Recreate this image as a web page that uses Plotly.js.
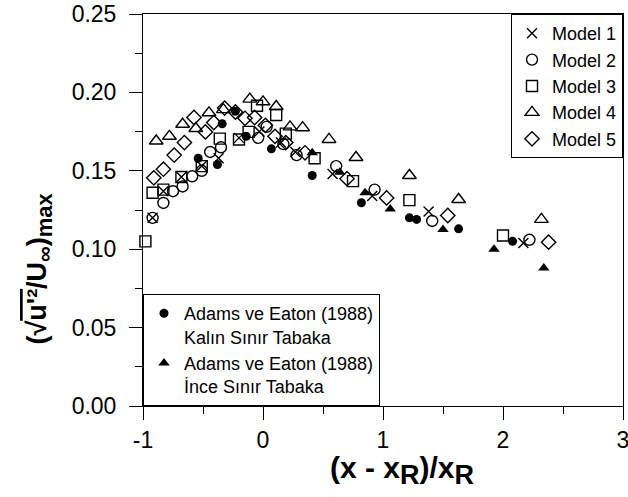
<!DOCTYPE html>
<html>
<head>
<meta charset="utf-8">
<script src="https://cdn.plot.ly/plotly-3.0.1.min.js"></script>
<style>html,body{margin:0;padding:0;background:#fff;}</style>
</head>
<body>
<div id="chart" style="width:628px;height:497px;"></div>
<script>
// Model 1 (x)
const m1X = [-0.92, -0.83, -0.68, -0.51, -0.37, -0.20, -0.03, 0.15, 0.27, 0.58, 0.91, 1.38, 2.17];
const m1Y = [0.120, 0.137, 0.146, 0.153, 0.158, 0.171, 0.175, 0.168, 0.162, 0.148, 0.134, 0.124, 0.104];
// Model 2 (o)
const m2X = [-0.92, -0.83, -0.75, -0.67, -0.59, -0.51, -0.44, -0.35, -0.04, 0.03, 0.17, 0.28, 0.61, 0.93, 1.41, 2.22];
const m2Y = [0.120, 0.1295, 0.137, 0.140, 0.1465, 0.150, 0.162, 0.165, 0.171, 0.178, 0.167, 0.160, 0.153, 0.138, 0.118, 0.106];
// Model 3 (square)
const m3X = [-0.98, -0.92, -0.83, -0.68, -0.51, -0.36, -0.20, -0.12, -0.05, 0.11, 0.19, 0.43, 0.75, 1.22, 2.00];
const m3Y = [0.105, 0.136, 0.138, 0.146, 0.153, 0.1705, 0.170, 0.1748, 0.1915, 0.1856, 0.1737, 0.158, 0.1434, 0.1313, 0.1087];
// Model 4 (triangle)
const m4X = [-0.89, -0.78, -0.67, -0.56, -0.45, -0.33, -0.11, 0.00, 0.11, 0.225, 0.33, 0.55, 0.775, 1.22, 1.63, 2.32];
const m4Y = [0.169, 0.172, 0.1797, 0.177, 0.187, 0.189, 0.1957, 0.194, 0.191, 0.178, 0.1775, 0.170, 0.1585, 0.147, 0.1317, 0.119];
// Model 5 (diamond)
const m5X = [-0.91, -0.83, -0.74, -0.655, -0.575, -0.48, -0.41, -0.32, -0.23, -0.15, -0.07, 0.02, 0.10, 0.19, 0.35, 0.70, 1.03, 1.54, 2.38];
const m5Y = [0.1455, 0.151, 0.160, 0.168, 0.184, 0.1748, 0.1808, 0.190, 0.1875, 0.1835, 0.184, 0.179, 0.172, 0.168, 0.1615, 0.145, 0.1327, 0.1215, 0.1045];
// Adams ve Eaton (1988) - Kalın Sınır Tabaka
const thickX = [-0.54, -0.38, -0.34, -0.23, -0.14, 0.07, 0.41, 0.82, 1.22, 1.28, 1.63, 2.08];
const thickY = [0.158, 0.154, 0.180, 0.188, 0.172, 0.164, 0.147, 0.1296, 0.120, 0.119, 0.113, 0.105];
// Adams ve Eaton (1988) - İnce Sınır Tabaka
const thinX = [0.41, 0.64, 0.85, 1.06, 1.50, 1.925, 2.34];
const thinY = [0.1615, 0.149, 0.136, 0.1257, 0.1125, 0.100, 0.088];

const xTicks = [-1, 0, 1, 2, 3];
const xTickText = ['-1', '0', '1', '2', '3'];
const yTicks = [0, 0.05, 0.10, 0.15, 0.20, 0.25];
const yTickText = ['0.00', '0.05', '0.10', '0.15', '0.20', '0.25'];

const FONT = 'Liberation Sans, Arial, sans-serif';
const lw = 1.4;

function openTrace(x, y, name, symbol, size) {
  return {x, y, name, type: 'scatter', mode: 'markers', cliponaxis: false, legend: 'legend',
    marker: {symbol, size, color: 'black', line: {color: 'black', width: lw}}};
}

const traces = [
  openTrace(m1X, m1Y, 'Model 1', 'x-thin', 10),
  openTrace(m2X, m2Y, 'Model 2', 'circle-open', 11),
  openTrace(m3X, m3Y, 'Model 3', 'square-open', 11),
  openTrace(m4X, m4Y, 'Model 4', 'triangle-up-open', 12),
  openTrace(m5X, m5Y, 'Model 5', 'diamond-open', 11),
  {x: thickX, y: thickY, name: 'Adams ve Eaton (1988)<br>Kalın Sınır Tabaka', type: 'scatter', mode: 'markers',
   cliponaxis: false, legend: 'legend2', marker: {symbol: 'circle', size: 9, color: 'black'}},
  {x: thinX, y: thinY, name: 'Adams ve Eaton (1988)<br>İnce Sınır Tabaka', type: 'scatter', mode: 'markers',
   cliponaxis: false, legend: 'legend2', marker: {symbol: 'triangle-up', size: 10, color: 'black'}}
];

const axisCommon = {
  showline: true, mirror: true, linecolor: 'black', linewidth: 1,
  showgrid: false, zeroline: false, ticks: 'outside', ticklen: 13, tickwidth: 1, tickcolor: 'black',
  tickfont: {family: FONT, size: 23, color: 'black'}, ticklabeloverflow: 'allow'
};

const layout = {
  width: 628, height: 497,
  margin: {l: 143, r: 5, t: 14, b: 91},
  paper_bgcolor: 'white', plot_bgcolor: 'white',
  font: {family: FONT, color: 'black'},
  showlegend: true,
  xaxis: Object.assign({}, axisCommon, {range: [-1, 3], tickvals: xTicks, ticktext: xTickText,
    minor: {dtick: 0.5, tick0: 0, ticks: 'outside', ticklen: 7, tickcolor: 'black', tickwidth: 1}}),
  yaxis: Object.assign({}, axisCommon, {range: [0, 0.25], tickvals: yTicks, ticktext: yTickText,
    ticklabelstandoff: 8,
    minor: {dtick: 0.025, tick0: 0, ticks: 'outside', ticklen: 7, tickcolor: 'black', tickwidth: 1}}),
  legend: {x: 1, y: 1, xanchor: 'right', yanchor: 'top', bgcolor: 'white', bordercolor: 'black', borderwidth: 1,
    font: {family: FONT, size: 18, color: 'black'}, itemwidth: 30},
  legend2: {x: 0, y: 0, xanchor: 'left', yanchor: 'bottom', bgcolor: 'white', bordercolor: 'black', borderwidth: 1,
    font: {family: FONT, size: 18, color: 'black'}, valign: 'top', itemwidth: 30},
  annotations: [
    {xref: 'paper', yref: 'paper', x: 0.54, y: -0.165, xanchor: 'center', yanchor: 'middle', showarrow: false,
     text: "<b>(x - x<sub><span style='font-size:27px'>R</span></sub>)/x<sub><span style='font-size:27px'>R</span></sub></b>",
     font: {family: FONT, size: 30, color: 'black'}},
    {xref: 'paper', yref: 'paper', x: -0.215, y: 0.35, xanchor: 'center', yanchor: 'middle', showarrow: false,
     textangle: -90,
     text: "<b>(√<span style='text-decoration:overline'>u'²</span>/U<sub><span style='font-size:22px'>∞</span></sub>)<sub><span style='font-size:22px'>max</span></sub></b>",
     font: {family: FONT, size: 27, color: 'black'}}
  ]
};

Plotly.newPlot('chart', traces, layout, {displayModeBar: false, staticPlot: true});
</script>
</body>
</html>
